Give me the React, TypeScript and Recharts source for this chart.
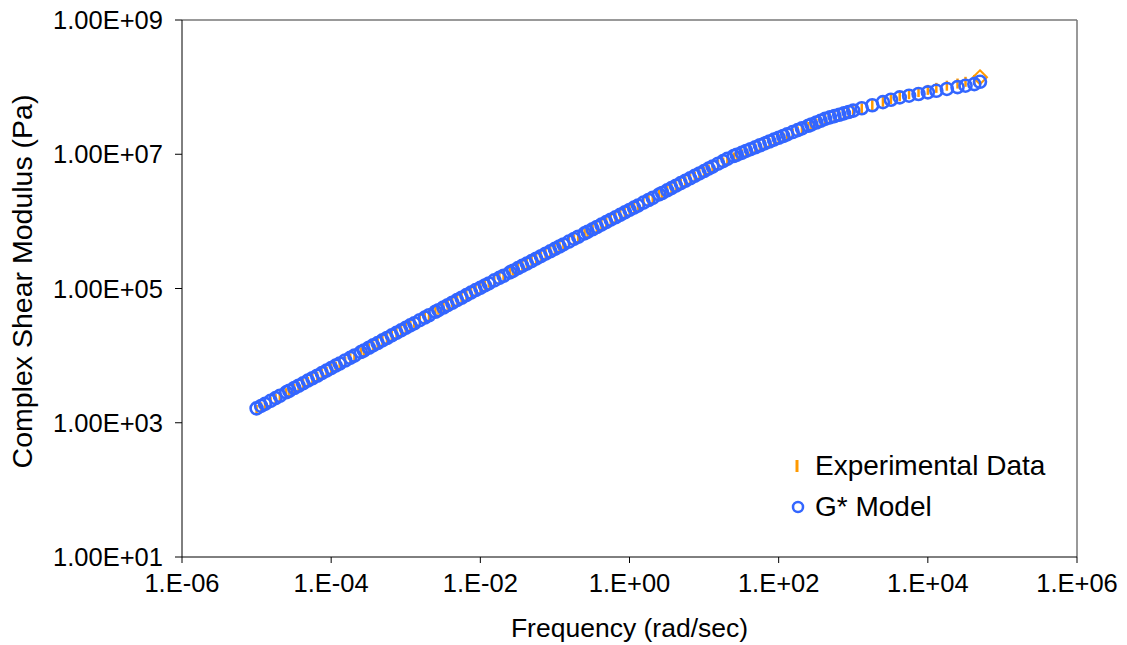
import React from 'react';
import {
  ScatterChart,
  Scatter,
  XAxis,
  YAxis,
  ReferenceLine,
  Label,
} from 'recharts';

// frequency (rad/sec)
const freq = [
  1.0e-5, 1.15e-5, 1.3e-5, 1.54e-5, 1.8e-5, 2.05e-5, 2.5e-5, 2.74e-5, 3.2e-5, 3.65e-5, 4.2e-5, 4.87e-5, 5.6e-5, 6.49e-5, 7.5e-5, 8.66e-5,
  1.0e-4, 1.15e-4, 1.3e-4, 1.54e-4, 1.8e-4, 2.05e-4, 2.5e-4, 2.74e-4, 3.2e-4, 3.65e-4, 4.2e-4, 4.87e-4, 5.6e-4, 6.49e-4, 7.5e-4, 8.66e-4,
  1.0e-3, 1.15e-3, 1.3e-3, 1.54e-3, 1.8e-3, 2.05e-3, 2.5e-3, 2.74e-3, 3.2e-3, 3.65e-3, 4.2e-3, 4.87e-3, 5.6e-3, 6.49e-3, 7.5e-3, 8.66e-3,
  1.0e-2, 1.15e-2, 1.3e-2, 1.54e-2, 1.8e-2, 2.05e-2, 2.5e-2, 2.74e-2, 3.2e-2, 3.65e-2, 4.2e-2, 4.87e-2, 5.6e-2, 6.49e-2, 7.5e-2, 8.66e-2,
  1.0e-1, 1.15e-1, 1.3e-1, 1.54e-1, 1.8e-1, 2.05e-1, 2.5e-1, 2.74e-1, 3.2e-1, 3.65e-1, 4.2e-1, 4.87e-1, 5.6e-1, 6.49e-1, 7.5e-1, 8.66e-1,
  1.0, 1.15, 1.3, 1.54, 1.8, 2.05, 2.5, 2.74, 3.2, 3.65, 4.2, 4.87, 5.6, 6.49, 7.5, 8.66,
  1.0e1, 1.15e1, 1.3e1, 1.54e1, 1.8e1, 2.05e1, 2.5e1, 2.74e1, 3.2e1, 3.65e1, 4.2e1, 4.87e1, 5.6e1, 6.49e1, 7.5e1, 8.66e1,
  1.0e2, 1.15e2, 1.3e2, 1.54e2, 1.8e2, 2.05e2, 2.5e2, 2.74e2, 3.2e2, 3.65e2, 4.2e2, 4.87e2, 5.6e2, 6.49e2, 7.5e2, 8.66e2,
  1.0e3, 1.3e3, 1.8e3, 2.5e3, 3.2e3, 4.2e3, 5.6e3, 7.5e3,
  1.0e4, 1.3e4, 1.8e4, 2.5e4, 3.2e4, 4.2e4, 5.0e4,
];

// measured complex shear modulus (Pa)
const expG = [
  1.55e3, 1.7e3, 1.83e3, 2.03e3, 2.25e3, 2.41e3, 2.76e3, 2.88e3, 3.2e3, 3.42e3, 3.79e3, 4.06e3, 4.49e3, 4.83e3, 5.38e3, 5.75e3,
  6.4e3, 6.85e3, 7.52e3, 8.15e3, 9.1e3, 9.7e3, 1.12e4, 1.16e4, 1.29e4, 1.38e4, 1.53e4, 1.65e4, 1.82e4, 1.96e4, 2.19e4, 2.34e4,
  2.62e4, 2.8e4, 3.08e4, 3.36e4, 3.76e4, 4.02e4, 4.62e4, 4.82e4, 5.35e4, 5.72e4, 6.3e4, 6.82e4, 7.45e4, 8.08e4, 8.84e4, 9.6e4,
  1.04e5, 1.13e5, 1.22e5, 1.34e5, 1.46e5, 1.57e5, 1.76e5, 1.85e5, 2.02e5, 2.17e5, 2.34e5, 2.55e5, 2.76e5, 3.0e5, 3.26e5, 3.54e5,
  3.84e5, 4.18e5, 4.47e5, 4.95e5, 5.4e5, 5.84e5, 6.55e5, 6.9e5, 7.58e5, 8.15e5, 8.88e5, 9.62e5, 1.06e6, 1.14e6, 1.26e6, 1.34e6,
  1.5e6, 1.58e6, 1.74e6, 1.87e6, 2.07e6, 2.2e6, 2.49e6, 2.6e6, 2.86e6, 3.07e6, 3.33e6, 3.62e6, 3.92e6, 4.27e6, 4.62e6, 5.04e6,
  5.44e6, 5.92e6, 6.3e6, 7.0e6, 7.55e6, 8.25e6, 8.95e6, 9.45e6, 1.0e7, 1.07e7, 1.13e7, 1.21e7, 1.29e7, 1.38e7, 1.47e7, 1.57e7,
  1.68e7, 1.78e7, 1.89e7, 2.03e7, 2.19e7, 2.31e7, 2.55e7, 2.64e7, 2.86e7, 3.0e7, 3.24e7, 3.38e7, 3.6e7, 3.72e7, 3.98e7, 4.1e7,
  4.4e7, 4.82e7, 5.4e7, 6.05e7, 6.65e7, 7.3e7, 7.85e7, 8.45e7,
  9.1e7, 9.75e7, 1.05e8, 1.13e8, 1.2e8, 1.28e8, 1.4e8,
];

// G* model (Pa)
const modelG = [
  1.64e3, 1.78e3, 1.91e3, 2.12e3, 2.33e3, 2.52e3, 2.84e3, 3.0e3, 3.29e3, 3.56e3, 3.87e3, 4.24e3, 4.6e3, 5.02e3, 5.48e3, 5.98e3,
  6.52e3, 7.1e3, 7.62e3, 8.45e3, 9.27e3, 1.0e4, 1.13e4, 1.19e4, 1.31e4, 1.42e4, 1.54e4, 1.69e4, 1.83e4, 2.0e4, 2.18e4, 2.38e4,
  2.59e4, 2.82e4, 3.03e4, 3.37e4, 3.69e4, 3.99e4, 4.5e4, 4.75e4, 5.21e4, 5.64e4, 6.14e4, 6.71e4, 7.29e4, 7.96e4, 8.69e4, 9.48e4,
  1.02e5, 1.11e5, 1.19e5, 1.32e5, 1.44e5, 1.55e5, 1.74e5, 1.84e5, 2.01e5, 2.17e5, 2.35e5, 2.56e5, 2.78e5, 3.03e5, 3.3e5, 3.58e5,
  3.89e5, 4.22e5, 4.53e5, 5.0e5, 5.47e5, 5.9e5, 6.62e5, 6.98e5, 7.64e5, 8.24e5, 8.93e5, 9.75e5, 1.06e6, 1.15e6, 1.25e6, 1.36e6,
  1.48e6, 1.6e6, 1.72e6, 1.9e6, 2.08e6, 2.24e6, 2.52e6, 2.65e6, 2.9e6, 3.13e6, 3.4e6, 3.71e6, 4.02e6, 4.38e6, 4.76e6, 5.18e6,
  5.62e6, 6.1e6, 6.55e6, 7.23e6, 7.91e6, 8.53e6, 9.42e6, 9.84e6, 1.05e7, 1.12e7, 1.19e7, 1.27e7, 1.36e7, 1.45e7, 1.55e7, 1.65e7,
  1.76e7, 1.87e7, 1.98e7, 2.14e7, 2.29e7, 2.43e7, 2.66e7, 2.77e7, 2.97e7, 3.15e7, 3.36e7, 3.54e7, 3.7e7, 3.88e7, 4.06e7, 4.26e7,
  4.46e7, 4.84e7, 5.37e7, 5.97e7, 6.49e7, 7.03e7, 7.45e7, 7.89e7,
  8.36e7, 8.81e7, 9.4e7, 1.0e8, 1.05e8, 1.11e8, 1.2e8,
];

const xTicks = [1e-6, 1e-4, 1e-2, 1, 1e2, 1e4, 1e6];
const yTicks = [1e1, 1e3, 1e5, 1e7, 1e9];

const ORANGE = '#FF9900';
const BLUE = '#3366FF';
const FONT = "'Liberation Sans', Arial, sans-serif";

const expData = freq.map((f, i) => ({ freq: f, g: expG[i] }));
const modelData = freq.map((f, i) => ({ freq: f, g: modelG[i] }));

const expo = (v: number) => {
  const e = Math.round(Math.log10(v));
  const s = e < 0 ? '-' : '+';
  return s + String(Math.abs(e)).padStart(2, '0');
};
const fmtX = (v: number) => `1.E${expo(v)}`;
const fmtY = (v: number) => `1.00E${expo(v)}`;

const DashShape = (props: any) => {
  const { cx, cy, index } = props;
  if (cx == null || cy == null) return <g />;
  if (index === freq.length - 1) {
    // last measured point shows as a diamond
    return (
      <path
        d={`M${cx},${cy - 7} L${cx + 7},${cy} L${cx},${cy + 7} L${cx - 7},${cy} Z`}
        fill="none"
        stroke={ORANGE}
        strokeWidth={2}
      />
    );
  }
  return <line x1={cx} y1={cy - 5} x2={cx} y2={cy + 5} stroke={ORANGE} strokeWidth={2.5} />;
};

const CircleShape = (props: any) => {
  const { cx, cy } = props;
  if (cx == null || cy == null) return <g />;
  return <circle cx={cx} cy={cy} r={6} fill="none" stroke={BLUE} strokeWidth={2.6} />;
};

const YTitle = (props: any) => {
  const vb = props.viewBox || {};
  const x = vb.x + 22;
  const y = vb.y + vb.height / 2 - 7;
  return (
    <text
      x={x}
      y={y}
      transform={`rotate(-90 ${x} ${y})`}
      textAnchor="middle"
      dominantBaseline="central"
      fontFamily={FONT}
      fontSize={28.5}
      fill="#000"
    >
      Complex Shear Modulus (Pa)
    </text>
  );
};

const XTitle = (props: any) => {
  const vb = props.viewBox || {};
  return (
    <text
      x={vb.x + vb.width / 2}
      y={628}
      textAnchor="middle"
      dominantBaseline="central"
      fontFamily={FONT}
      fontSize={26.5}
      fill="#000"
    >
      Frequency (rad/sec)
    </text>
  );
};

export default function App() {
  return (
    <div style={{ position: 'absolute', left: 0, top: 0, width: 1127, height: 645, background: '#fff' }}>
      <ScatterChart
        width={1127}
        height={645}
        margin={{ top: 20, right: 50, bottom: 0, left: 0 }}
      >
        <XAxis
          dataKey="freq"
          type="number"
          scale="log"
          domain={[1e-6, 1e6]}
          ticks={xTicks}
          interval={0}
          allowDataOverflow
          tickFormatter={fmtX}
          height={88}
          tickSize={6}
          tickMargin={11}
          stroke="#000"
          tick={{ fill: '#000', fontSize: 25.5, fontFamily: FONT }}
        >
          <Label content={<XTitle />} />
        </XAxis>
        <YAxis
          dataKey="g"
          type="number"
          scale="log"
          domain={[10, 1e9]}
          ticks={yTicks}
          interval={0}
          allowDataOverflow
          tickFormatter={fmtY}
          width={182}
          tickSize={7}
          tickMargin={12}
          stroke="#000"
          tick={{ fill: '#000', fontSize: 25.5, fontFamily: FONT }}
        >
          <Label content={<YTitle />} />
        </YAxis>
        <ReferenceLine y={1e9} stroke="#777" strokeWidth={1.5} />
        <ReferenceLine x={1e6} stroke="#777" strokeWidth={1.5} />
        <Scatter
          name="Experimental Data"
          data={expData}
          shape={<DashShape />}
          isAnimationActive={false}
        />
        <Scatter
          name="G* Model"
          data={modelData}
          shape={<CircleShape />}
          isAnimationActive={false}
        />
      </ScatterChart>

      {/* legend box inside the plot, bottom right */}
      <div
        style={{
          position: 'absolute',
          left: 787,
          top: 445,
          fontFamily: FONT,
          fontSize: 28,
          color: '#000',
          lineHeight: 1,
        }}
      >
        <div style={{ display: 'flex', alignItems: 'center', height: 41 }}>
          <svg width={20} height={20} style={{ marginRight: 8 }}>
            <line x1={10} y1={4} x2={10} y2={16} stroke={ORANGE} strokeWidth={3} />
          </svg>
          <span>Experimental Data</span>
        </div>
        <div style={{ display: 'flex', alignItems: 'center', height: 41 }}>
          <svg width={20} height={20} style={{ marginRight: 8 }}>
            <circle cx={11} cy={10} r={5} fill="none" stroke={BLUE} strokeWidth={2.5} />
          </svg>
          <span>G* Model</span>
        </div>
      </div>
    </div>
  );
}
